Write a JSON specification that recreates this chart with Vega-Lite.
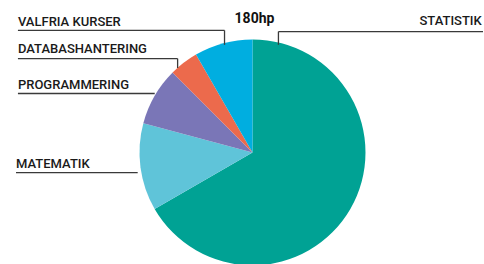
{
  "$schema": "https://vega.github.io/schema/vega-lite/v6.json",
  "width": 484,
  "height": 264,
  "autosize": {"type": "fit", "contains": "padding"},
  "padding": 0,
  "background": "white",
  "config": {"view": {"stroke": null}},
  "datasets": {
    "slices": [
      {"course": "Statistik", "hp": 120, "idx": 1, "cx": 0, "cy": 0},
      {"course": "Matematik", "hp": 22.5, "idx": 2, "cx": 0, "cy": 0},
      {"course": "Programmering", "hp": 15, "idx": 3, "cx": 0, "cy": 0},
      {"course": "Databashantering", "hp": 7.5, "idx": 4, "cx": 0, "cy": 0},
      {"course": "Valfria kurser", "hp": 15, "idx": 5, "cx": 0, "cy": 0}
    ],
    "leaders": [
      {"course": "Valfria kurser", "x": -2.08, "y": 1.106, "x2": -0.248, "y2": 1.106},
      {"course": "Valfria kurser", "x": -0.248, "y": 1.106, "x2": -0.248, "y2": 0.975},
      {"course": "Databashantering", "x": -2.08, "y": 0.85, "x2": -0.664, "y2": 0.85},
      {"course": "Databashantering", "x": -0.664, "y": 0.85, "x2": -0.664, "y2": 0.765},
      {"course": "Programmering", "x": -2.08, "y": 0.534, "x2": -0.867, "y2": 0.534},
      {"course": "Matematik", "x": -2.097, "y": -0.183, "x2": -1.018, "y2": -0.183},
      {"course": "Statistik", "x": 0.23, "y": 1.095, "x2": 2.044, "y2": 1.095},
      {"course": "Statistik", "x": 0.23, "y": 1.095, "x2": 0.23, "y2": 0.975}
    ],
    "labels": [
      {"text": "VALFRIA KURSER", "x": -2.08, "y": 1.144, "side": "left", "bold": false},
      {"text": "DATABASHANTERING", "x": -2.08, "y": 0.9, "side": "left", "bold": false},
      {"text": "PROGRAMMERING", "x": -2.08, "y": 0.578, "side": "left", "bold": false},
      {"text": "MATEMATIK", "x": -2.097, "y": -0.142, "side": "left", "bold": false},
      {"text": "STATISTIK", "x": 2.033, "y": 1.159, "side": "right", "bold": false},
      {"text": "180hp", "x": -0.159, "y": 1.173, "side": "left", "bold": true}
    ]
  },
  "layer": [
    {
      "data": {"name": "slices"},
      "mark": {"type": "arc", "outerRadius": 113, "stroke": null},
      "encoding": {
        "x": {"field": "cx", "type": "quantitative", "scale": {"domain": [-2.239, 2.044], "nice": false, "zero": false}, "axis": null},
        "y": {"field": "cy", "type": "quantitative", "scale": {"domain": [-0.956, 1.381], "nice": false, "zero": false}, "axis": null},
        "theta": {"field": "hp", "type": "quantitative", "stack": true},
        "order": {"field": "idx", "type": "quantitative"},
        "color": {
          "field": "course",
          "type": "nominal",
          "legend": null,
          "scale": {
            "domain": ["Statistik", "Matematik", "Programmering", "Databashantering", "Valfria kurser"],
            "range": ["#00a294", "#5fc4d9", "#7a76b7", "#ec6a4c", "#00aee0"]
          }
        }
      }
    },
    {
      "data": {"name": "leaders"},
      "mark": {"type": "rule", "color": "#3a3a3a", "strokeWidth": 1.3},
      "encoding": {
        "x": {"field": "x", "type": "quantitative"},
        "y": {"field": "y", "type": "quantitative"},
        "x2": {"field": "x2"},
        "y2": {"field": "y2"}
      }
    },
    {
      "data": {"name": "labels"},
      "transform": [{"filter": "!datum.bold && datum.side == 'left'"}],
      "mark": {"type": "text", "font": "Roboto", "fontSize": 13, "fontWeight": 500, "color": "#1a1a1a", "baseline": "alphabetic", "align": "left"},
      "encoding": {
        "x": {"field": "x", "type": "quantitative"},
        "y": {"field": "y", "type": "quantitative"},
        "text": {"field": "text"}
      }
    },
    {
      "data": {"name": "labels"},
      "transform": [{"filter": "datum.side == 'right'"}],
      "mark": {"type": "text", "font": "Roboto", "fontSize": 13, "fontWeight": 500, "color": "#1a1a1a", "baseline": "alphabetic", "align": "right"},
      "encoding": {
        "x": {"field": "x", "type": "quantitative"},
        "y": {"field": "y", "type": "quantitative"},
        "text": {"field": "text"}
      }
    },
    {
      "data": {"name": "labels"},
      "transform": [{"filter": "datum.bold"}],
      "mark": {"type": "text", "font": "Roboto", "fontSize": 14, "fontWeight": "bold", "color": "#111111", "baseline": "alphabetic", "align": "left"},
      "encoding": {
        "x": {"field": "x", "type": "quantitative"},
        "y": {"field": "y", "type": "quantitative"},
        "text": {"field": "text"}
      }
    }
  ]
}
